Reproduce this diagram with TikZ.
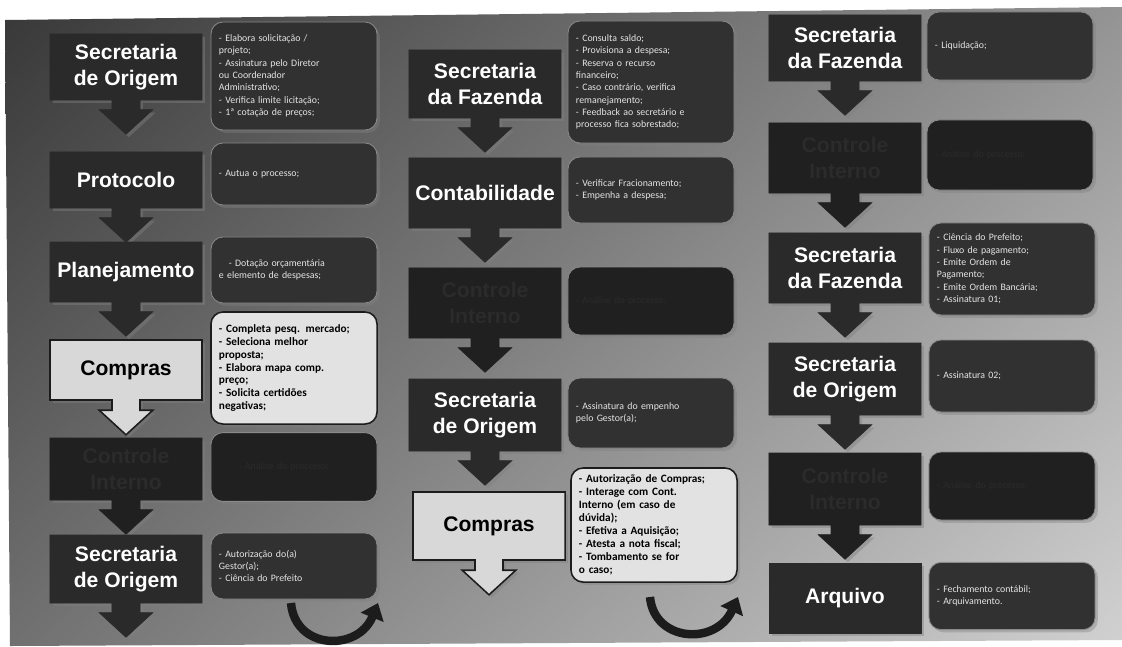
\documentclass[tikz,border=0pt]{standalone}
\usepackage{fontspec}
\setmainfont{Liberation Sans}
\newfontfamily\notefont{Carlito}
\usetikzlibrary{shapes.arrows,shadows,shadings,arrows.meta}

\definecolor{stagedark}{HTML}{2A2A2A}
\definecolor{stagehid}{HTML}{202020}
\definecolor{hidtext}{HTML}{2B2B2B}
\definecolor{notedark}{HTML}{313131}
\definecolor{noteedge}{HTML}{8A8A8A}
\definecolor{buyfill}{HTML}{D8D8D8}
\definecolor{buynotefill}{HTML}{E2E2E2}
\definecolor{inkdark}{HTML}{1C1C1C}

\tikzset{
  stage/.style={arrow box, arrow box arrows={south:0.85cm from border},
    arrow box shaft width=0.7cm, arrow box head extend=0.32cm,
    arrow box tip angle=95, fill=stagedark, draw=stagedark, text=white,
    font=\bfseries\fontsize{15}{19}\selectfont, align=center,
    minimum width=3.8cm, minimum height=1.65cm, inner sep=2pt,
    drop shadow={shadow xshift=2pt, shadow yshift=-2pt, opacity=0.45}},
  laststage/.style={stage, rectangle},
  hidstage/.style={stage, fill=stagehid, draw=stagehid, text=hidtext},
  buystage/.style={stage, fill=buyfill, draw=inkdark, text=black, line width=1.1pt},
  note/.style={rectangle, rounded corners=0.3cm, fill=notedark, draw=noteedge,
    line width=0.6pt, text=white!90!black, align=left, text width=3.75cm,
    inner xsep=0.2cm, minimum height=1.65cm,
    font=\notefont\fontsize{7}{8.8}\selectfont,
    drop shadow={shadow xshift=2pt, shadow yshift=-2pt, opacity=0.4}},
  hidnote/.style={note, text=hidtext, fill=stagehid},
  buynote/.style={note, fill=buynotefill, draw=inkdark, line width=1.1pt,
    text=black, font=\notefont\bfseries\fontsize{8}{9.2}\selectfont},
  turn/.style={line width=6pt, draw=inkdark, -{Triangle[length=11pt, width=17pt]}}
}

\begin{document}
\begin{tikzpicture}[x=0.025cm, y=-0.025cm]
  \useasboundingbox (0,0) rectangle (1122,646);
  \fill[white] (0,0) rectangle (1122,646);
  \shade[upper left=black!78, lower left=black!56, upper right=black!42, lower right=black!18]
    (5,20) -- (1122,7) -- (1122,640) -- (10,646) -- cycle;

  % first column
  \node[stage] (so1) at (126,67) {Secretaria\\de Origem};
  \node[stage, minimum height=1.4cm] (prot) at (126,180) {Protocolo};
  \node[stage, minimum height=1.5cm] (plan) at (126,272) {Planejamento};
  \node[buystage, minimum height=1.5cm] (comp1) at (126,370) {Compras};
  \node[hidstage, minimum height=1.55cm] (ci1) at (126,469) {Controle\\Interno};
  \node[stage, minimum height=1.7cm] (so2) at (126,569) {Secretaria\\de Origem};

  \node[note, minimum height=2.7cm] (n-so1) at (294,76) {- Elabora solicitação /\\projeto;\\- Assinatura pelo Diretor\\ou Coordenador\\Administrativo;\\- Verifica limite licitação;\\- 1ª cotação de preços;};
  \node[note, minimum height=1.55cm] (n-prot) at (294,174) {- Autua o processo;\\[12pt]};
  \node[note] (n-plan) at (294,270) {\quad- Dotação orçamentária\\e elemento de despesas;};
  \node[buynote, minimum height=2.8cm] (n-comp1) at (294,368) {- Completa pesq. mercado;\\- Seleciona melhor\\proposta;\\- Elabora mapa comp.\\preço;\\- Solicita certidões\\negativas;};
  \node[hidnote, minimum height=1.72cm] (n-ci1) at (294,467) {\qquad- Análise do processo;};
  \node[note] (n-so2) at (294,566) {- Autorização do(a)\\Gestor(a);\\- Ciência do Prefeito\\[6pt]};

  \draw[turn] (291,603) .. controls (295,650) and (358,652) .. (378,603);

  % second column
  \node[stage, minimum height=1.7cm] (sf1) at (485,84) {Secretaria\\da Fazenda};
  \node[stage, minimum height=1.75cm] (cont) at (485,193) {Contabilidade};
  \node[hidstage, minimum height=1.75cm] (ci2) at (485,303) {Controle\\Interno};
  \node[stage, minimum height=1.8cm] (so3) at (485,415) {Secretaria\\de Origem};
  \node[buystage, minimum height=1.7cm] (comp2) at (489,526) {Compras};

  \node[note, minimum height=3.05cm] (n-sf1) at (651,82) {- Consulta saldo;\\- Provisiona a despesa;\\- Reserva o recurso\\financeiro;\\- Caso contrário, verifica\\remanejamento;\\- Feedback ao secretário e\\processo fica sobrestado;};
  \node[note] (n-cont) at (651,190) {- Verificar Fracionamento;\\- Empenha a despesa;\\[6pt]};
  \node[hidnote, minimum height=1.7cm] (n-ci2) at (651,301) {- Análise do processo;};
  \node[note, minimum height=1.75cm] (n-so3) at (651,413) {- Assinatura do empenho\\pelo Gestor(a);};
  \node[buynote, minimum height=2.85cm] (n-comp2) at (654,525) {- Autorização de Compras;\\- Interage com Cont.\\Interno (em caso de\\dúvida);\\- Efetiva a Aquisição;\\- Atesta a nota fiscal;\\- Tombamento se for\\o caso;};

  \draw[turn] (650,597) .. controls (654,642) and (716,646) .. (738,597);

  % third column
  \node[stage] (sf2) at (845,48) {Secretaria\\da Fazenda};
  \node[hidstage, minimum height=1.75cm] (ci3) at (845,158) {Controle\\Interno};
  \node[stage, minimum height=1.75cm] (sf3) at (845,268) {Secretaria\\da Fazenda};
  \node[stage, minimum height=1.8cm] (so4) at (845,379) {Secretaria\\de Origem};
  \node[hidstage, minimum height=1.8cm] (ci4) at (845,489) {Controle\\Interno};
  \node[laststage, minimum height=1.75cm] (arq) at (845,598) {Arquivo};

  \node[note, minimum height=1.7cm] (n-sf2) at (1010,46) {- Liquidação;\\[12pt]};
  \node[hidnote, minimum height=1.75cm] (n-ci3) at (1010,155) {- Análise do processo;};
  \node[note, minimum height=2.3cm] (n-sf3) at (1012,269) {- Ciência do Prefeito;\\- Fluxo de pagamento;\\- Emite Ordem de\\Pagamento;\\- Emite Ordem Bancária;\\- Assinatura 01;};
  \node[note, minimum height=1.8cm] (n-so4) at (1012,376) {- Assinatura 02;\\[6pt]};
  \node[hidnote, minimum height=1.7cm] (n-ci4) at (1012,486) {- Análise do processo;};
  \node[note, minimum height=1.68cm] (n-arq) at (1012,596) {- Fechamento contábil;\\- Arquivamento.};
\end{tikzpicture}
\end{document}
